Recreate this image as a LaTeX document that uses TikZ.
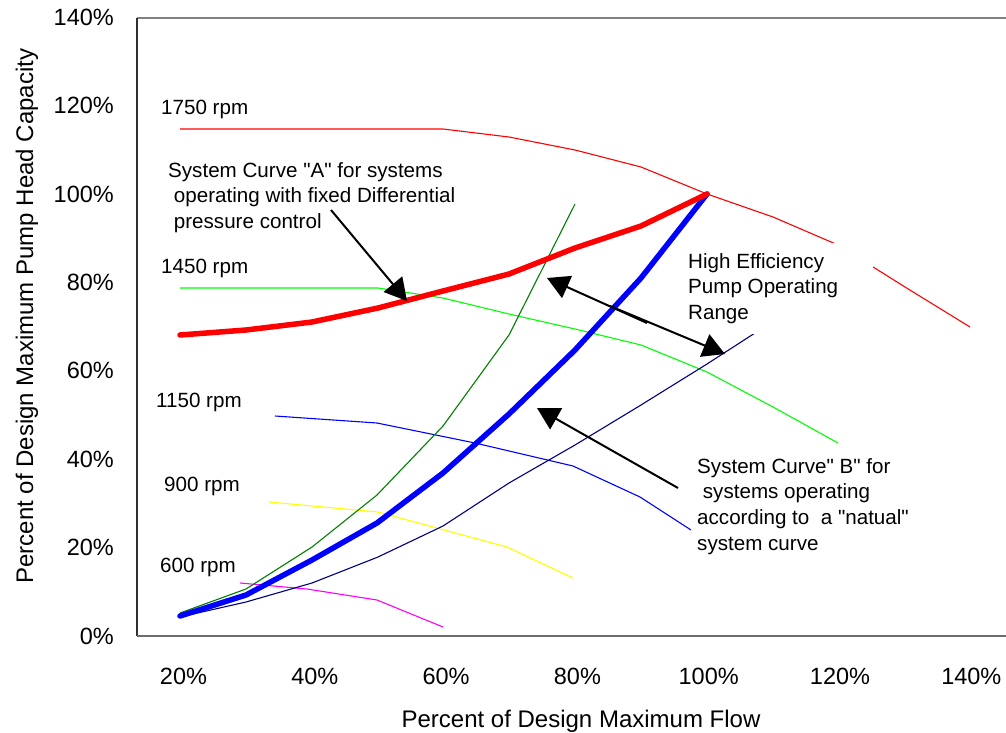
\documentclass[tikz,border=0pt]{standalone}
\usepackage{fontspec}
\setmainfont{Liberation Sans}[Ligatures=TeXOff]
\usetikzlibrary{arrows.meta}
\definecolor{navyc}{HTML}{000080}
\definecolor{dgreen}{HTML}{008000}
\definecolor{lgreen}{HTML}{00FF00}
\definecolor{magc}{HTML}{FF00FF}
\definecolor{yelc}{HTML}{FFFF00}
\definecolor{redc}{HTML}{FF0000}
\definecolor{bluec}{HTML}{0000FF}
\definecolor{axgray}{HTML}{808080}
\definecolor{axdark}{HTML}{303030}
\tikzset{
  ticklab/.style={inner sep=0pt, font=\fontsize{23.5}{28}\selectfont},
  axtitle/.style={inner sep=0pt, font=\fontsize{24}{28}\selectfont},
  rpmlab/.style={inner sep=0pt, anchor=base west, font=\fontsize{20.6}{25.7}\selectfont},
  note/.style={inner sep=0pt, anchor=base west, font=\fontsize{20.6}{25.7}\selectfont},
  thin curve/.style={line width=1.1pt, line join=round},
  thick curve/.style={line width=5.5pt, line join=round, line cap=round},
  pointer/.style={draw=black, line width=2pt, -{Triangle[length=22pt,width=24pt]}}
}
\begin{document}
\begin{tikzpicture}[x=1pt,y=-1pt]
\useasboundingbox (0,0) rectangle (1006,733);
% frame
\draw[axgray, line width=2pt] (137,18) -- (1006,18);
\draw[axdark, line width=2pt] (137,18) -- (137,636);
% y ticks
\foreach \h in {0,20,...,140}
  \node[ticklab, anchor=east] (yt\h) at (114,{636-4.42*\h}) {\h\%};
% x ticks
\foreach \f in {20,40,...,140}
  \node[ticklab, anchor=base] (xt\f) at ({183.5+6.565*(\f-20)},684) {\f\%};
% axis titles
\node[axtitle, anchor=base] (xtitle) at (581,727) {Percent of Design Maximum Flow};
\node[axtitle, anchor=base, rotate=90] (ytitle) at (33,316) {Percent of Design Maximum Pump Head Capacity};
% pump curves
\draw[thin curve, redc] plot coordinates {(180,129) (246,129) (312,129) (378,129) (443,129) (509,137) (575,150) (641,167) (707,194) (773,217) (838,245) (905,287) (970,327)};
\draw[thin curve, lgreen] plot coordinates {(180,288) (246,288) (312,288) (378,288) (443,298) (509,314) (575,329) (641,345) (707,372) (773,407) (838,443)};
\draw[thin curve, bluec] plot coordinates {(275,416) (377,423) (475,443) (573,466) (640,497) (691,530)};
\draw[thin curve, yelc] plot coordinates {(269,502) (378,512) (507,547) (573,578)};
\draw[thin curve, magc] plot coordinates {(240,583) (307,589) (377,600) (443,627)};
% system curves (thin)
\draw[thin curve, dgreen] plot coordinates {(180,613) (246,589) (312,547) (377,495) (443,426) (509,335) (575,204)};
\draw[thin curve, navyc] plot coordinates {(180,617) (246,602) (312,583) (378,557) (443,526) (509,483) (575,445) (641,405) (707,364) (755,333)};
% system curves (thick)
\draw[thick curve, bluec] plot coordinates {(180,616) (246,595) (312,560) (377,523) (443,473) (509,414) (575,350) (641,278) (707,194)};
\draw[thick curve, redc] plot coordinates {(180,335) (246,330) (312,322) (378,308) (443,291) (509,274) (575,248) (641,226) (707,194)};
% bottom axis
\draw[axgray!85!black, line width=2.5pt] (137,636) -- (1006,636);
% rpm labels
\node[rpmlab] (r1750) at (161,115) {1750 rpm};
\node[rpmlab] (r1450) at (161,273) {1450 rpm};
\node[rpmlab] (r1150) at (156,407) {1150 rpm};
\node[rpmlab] (r900) at (164,491) {900 rpm};
\node[rpmlab] (r600) at (160,572) {600 rpm};
% annotations
\node[note] (noteA) at (168,177) {\begin{tabular}[t]{@{}l@{}}System Curve "A" for systems\\\ operating with fixed Differential\\\ pressure control\end{tabular}};
\node[note, fill=white, inner xsep=5pt, inner ysep=7.2pt] (noteHE) at (683,268) {\begin{tabular}[t]{@{}p{180pt}@{}}High Efficiency\\Pump Operating\\Range\end{tabular}};
\node[note] (noteB) at (697,473) {\begin{tabular}[t]{@{}l@{}}System Curve" B" for\\\ systems operating\\according to\ \ a "natual"\\system curve\end{tabular}};
% arrows
\coordinate (aStart) at (331,210);
\coordinate (aTip) at (407,301);
\coordinate (heL0) at (647,323);
\coordinate (heLtip) at (547,278);
\coordinate (heR0) at (610,306);
\coordinate (heRtip) at (725,354);
\coordinate (bStart) at (678,488);
\coordinate (bTip) at (537,408);
\draw[pointer] (aStart) -- (aTip);
\draw[pointer] (heL0) -- (heLtip);
\draw[pointer] (heR0) -- (heRtip);
\draw[pointer] (bStart) -- (bTip);
\end{tikzpicture}
\end{document}
